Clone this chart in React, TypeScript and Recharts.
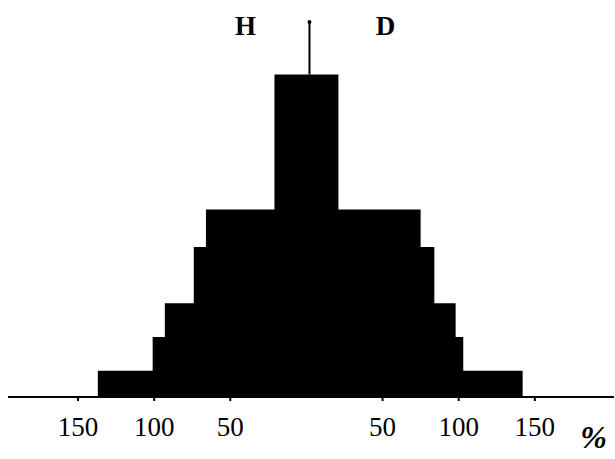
import React from "react";
import {
  ComposedChart, XAxis, YAxis, ReferenceArea, ReferenceLine, ReferenceDot, Label
} from "recharts";

// étages du profil, du haut vers le bas (hauteur relative, étendue en %)
const bandHeights = [86, 50, 40, 25, 16, 7];
const leftH = [21, 66, 74, 93, 101, 137];
const rightD = [21, 75, 84, 98, 103, 142];
const spikeX = 2;
const spikeTop = 100;
const xTicks = [-150, -100, -50, 50, 100, 150];
const sideLabels = [
  { text: "H", x: -40 },
  { text: "D", x: 52 },
];

const serif = "'Liberation Serif', 'DejaVu Serif', serif";

export default function App() {
  return (
    <div style={{ position: "absolute", left: 0, top: 0, background: "#fff" }}>
      <ComposedChart
        width={615}
        height={459}
        margin={{ top: 22, right: 1, left: 8, bottom: 0 }}
      >
        <XAxis
          type="number"
          dataKey="x"
          domain={[-196, 202]}
          ticks={xTicks}
          tickFormatter={(v: number) => String(Math.abs(v))}
          height={62}
          axisLine={{ stroke: "#000", strokeWidth: 2 }}
          tickLine={{ stroke: "#000", strokeWidth: 2 }}
          tickSize={4}
          tickMargin={16}
          tick={{ fill: "#000", fontSize: 27, fontFamily: serif }}
          allowDataOverflow
        >
          <Label
            value="%"
            position="insideRight"
            offset={7}
            dy={9}
            fill="#000"
            fontSize={32}
            fontWeight="bold"
            fontStyle="italic"
            fontFamily={serif}
          />
        </XAxis>
        <YAxis type="number" domain={[0, 100]} hide allowDataOverflow />

        {bandHeights.map((h, i) => (
          <ReferenceArea
            key={i}
            x1={-leftH[i]}
            x2={rightD[i]}
            y1={0}
            y2={h}
            fill="#000"
            fillOpacity={1}
            stroke="none"
          />
        ))}

        <ReferenceLine
          segment={[{ x: spikeX, y: bandHeights[0] }, { x: spikeX, y: spikeTop }]}
          stroke="#000"
          strokeWidth={2}
        />
        <ReferenceDot x={spikeX} y={spikeTop} r={2} fill="#000" stroke="none" />

        {sideLabels.map((s) => (
          <ReferenceDot key={s.text} x={s.x} y={99} r={0} fill="none" stroke="none">
            <Label
              value={s.text}
              position="center"
              fill="#000"
              fontSize={27}
              fontWeight="bold"
              fontFamily={serif}
            />
          </ReferenceDot>
        ))}
      </ComposedChart>
    </div>
  );
}
